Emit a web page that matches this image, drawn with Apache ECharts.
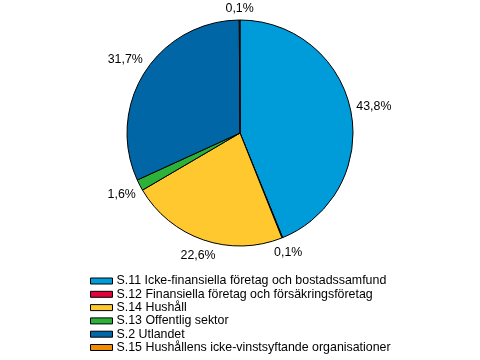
<!DOCTYPE html>
<html>
<head>
<meta charset="utf-8">
<script src="https://cdn.jsdelivr.net/npm/echarts@6/dist/echarts.min.js"></script>
<style>html,body{margin:0;padding:0;background:#fff;}#c{width:480px;height:360px;}</style>
</head>
<body>
<div id="c"></div>
<script>
const categories = [
  "S.11 Icke-finansiella företag och bostadssamfund",
  "S.12 Finansiella företag och försäkringsföretag",
  "S.14 Hushåll",
  "S.13 Offentlig sektor",
  "S.2 Utlandet",
  "S.15 Hushållens icke-vinstsyftande organisationer"
];
const values = [43.8, 0.1, 22.6, 1.6, 31.7, 0.1];
const colors = ["#009cd9", "#e3003a", "#ffc82e", "#2db239", "#0066a6", "#f08c00"];

const FONT = 'Liberation Sans, Arial, sans-serif';
const GAP = 5;

const chart = echarts.init(document.getElementById('c'), null, {renderer: 'canvas'});
chart.setOption({
  animation: false,
  color: colors,
  legend: {
    orient: 'vertical',
    left: 85,
    top: 270,
    height: 120,
    itemWidth: 22,
    itemHeight: 6,
    itemGap: 1.3,
    icon: 'rect',
    itemStyle: {borderColor: '#000', borderWidth: 1},
    textStyle: {fontFamily: FONT, fontSize: 12.4, color: '#000', padding: [0,0,0,-1]},
    data: categories
  },
  series: [{
    type: 'pie',
    center: [240, 133],
    radius: 113,
    startAngle: 90,
    clockwise: true,
    avoidLabelOverlap: false,
    itemStyle: {borderColor: '#000', borderWidth: 1},
    label: {
      show: true,
      position: 'outside',
      fontFamily: FONT,
      fontSize: 12.4,
      color: '#000',
      formatter: p => p.value.toFixed(1).replace('.', ',') + '%'
    },
    labelLine: {show: true, length: 4, length2: 0, lineStyle: {opacity: 0}},
    labelLayout: function (params) {
      const pts = params.labelLinePoints;
      if (!pts) return {};
      const p0 = pts[0], p1 = pts[1];
      let dx = p1[0] - p0[0], dy = p1[1] - p0[1];
      const len = Math.sqrt(dx * dx + dy * dy) || 1;
      dx /= len; dy /= len;
      const w = params.labelRect.width, h = params.labelRect.height;
      const k = GAP + w / 2 * Math.abs(dx) + h / 2 * Math.abs(dy);
      return {x: p0[0] + dx * k, y: p0[1] + dy * k, align: 'center', verticalAlign: 'middle'};
    },
    emphasis: {disabled: true},
    data: categories.map((n, i) => ({name: n, value: values[i]}))
  }]
});
</script>
</body>
</html>
